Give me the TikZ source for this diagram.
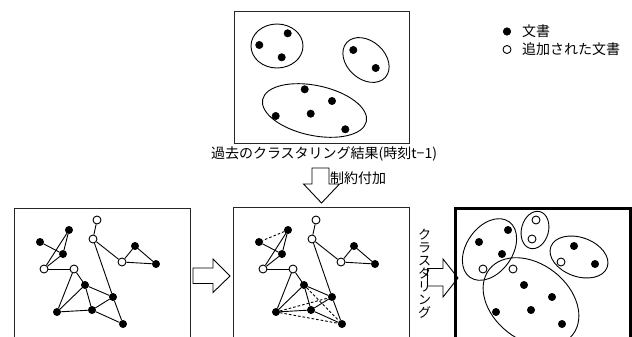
\documentclass[tikz,border=0pt]{standalone}
\usepackage{fontspec}
\setmainfont{Noto Sans CJK JP}
\begin{document}
\begin{tikzpicture}[x=1pt,y=-1pt,
  fd/.style={circle, fill=black, draw=black, line width=0.5pt, inner sep=0pt, minimum size=7.4pt},
  od/.style={circle, fill=white, draw=black, line width=0.9pt, inner sep=0pt, minimum size=8pt},
  edge/.style={line width=0.9pt},
  dedge/.style={line width=0.9pt, dash pattern=on 2.6pt off 2pt},
  frame/.style={draw=black!85, line width=1pt},
  thickframe/.style={draw=black, line width=3pt},
  blob/.style={draw=black, line width=0.9pt},
  arrowshape/.style={draw=black, fill=white, line width=0.9pt, line join=miter},
  txt/.style={inner sep=0pt, font=\fontsize{14}{16}\selectfont},
  vtxt/.style={inner sep=0pt, anchor=base, font=\fontsize{13}{13}\selectfont}
]
\useasboundingbox (0,0) rectangle (632,337);
\clip (0,0) rectangle (632,337);

\newcommand\graphnodes{%
  \node[od] (w1) at (97,220) {};
  \node[od] (w2) at (93,239) {};
  \node[fd] (b1) at (69,230) {};
  \node[fd] (b2) at (40,242) {};
  \node[fd] (b3) at (63,254) {};
  \node[od] (w3) at (44,269) {};
  \node[od] (w4) at (74,269) {};
  \node[fd] (b4) at (135,246) {};
  \node[od] (w5) at (122,262) {};
  \node[fd] (b5) at (156,264) {};
  \node[fd] (b6) at (85,285) {};
  \node[fd] (b7) at (113,297) {};
  \node[fd] (b8) at (57,312) {};
  \node[fd] (b9) at (92,310) {};
  \node[fd] (b10) at (123,324) {};
}
\newcommand\graphedges[1]{%
  \draw[edge] (#1w1) -- (#1w2);
  \draw[edge] (#1w2) -- (#1w5);
  \draw[edge] (#1w5) -- (#1b4);
  \draw[edge] (#1b4) -- (#1b5);
  \draw[edge] (#1w5) -- (#1b5);
  \draw[edge] (#1w2) -- (#1b7);
  \draw[edge] (#1b7) -- (#1b10);
  \draw[edge] (#1b2) -- (#1b3);
  \draw[edge] (#1b1) -- (#1b3);
  \draw[edge] (#1b1) -- (#1w3);
  \draw[edge] (#1b3) -- (#1w3);
  \draw[edge] (#1w3) -- (#1w4);
  \draw[edge] (#1w4) -- (#1b8);
  \draw[edge] (#1w4) -- (#1b6);
  \draw[edge] (#1b6) -- (#1b7);
  \draw[edge] (#1b6) -- (#1b8);
  \draw[edge] (#1b6) -- (#1b9);
  \draw[edge] (#1b8) -- (#1b9);
  \draw[edge] (#1b9) -- (#1b7);
  \draw[edge] (#1b9) -- (#1b10);
}

% ---------- top box: past clustering ----------
\path[frame] (234,12) rectangle (409,143.5);
\node[fd] (t1) at (259.3,45) {};
\node[fd] (t2) at (287.7,33.3) {};
\node[fd] (t3) at (281.7,57.3) {};
\node[fd] (t4) at (353.3,50) {};
\node[fd] (t5) at (375.7,68) {};
\node[fd] (t6) at (304.7,89.3) {};
\node[fd] (t7) at (332,101) {};
\node[fd] (t8) at (275.7,116) {};
\node[fd] (t9) at (310.7,113.7) {};
\node[fd] (t10) at (345.3,129.3) {};
\draw[blob] (277,46) ellipse [x radius=26pt, y radius=22pt];
\draw[blob] (366,60) ellipse [x radius=26pt, y radius=19pt, rotate=-42];
\draw[blob] (314.5,110.5) ellipse [x radius=53pt, y radius=25pt, rotate=-12];
\node[txt, anchor=base] (cap) at (324,158.5) {過去のクラスタリング結果(時刻t−1)};

% ---------- legend ----------
\node[fd, minimum size=7.6pt] (lg1) at (507,31.5) {};
\node[txt, anchor=base west] (lt1) at (522,37) {文書};
\node[od] (lg2) at (507,49.5) {};
\node[txt, anchor=base west] (lt2) at (522,55) {追加された文書};

% ---------- down arrow ----------
\draw[arrowshape] (312,168) -- (329,168) -- (329,184) -- (339.5,184) -- (321.5,203)
  -- (303.5,184) -- (312,184) -- cycle;
\node[txt, anchor=base west] (cons) at (330,183) {制約付加};

% ---------- left box ----------
\path[frame] (14,208) rectangle (190.5,345);
\begin{scope}[name prefix=L-]
  \graphnodes
\end{scope}
\graphedges{L-}

% ---------- arrow left -> middle ----------
\draw[arrowshape] (193,268) -- (213,268) -- (213,259) -- (230,276) -- (213,292.5)
  -- (213,283.5) -- (193,283.5) -- cycle;

% ---------- middle box ----------
\path[frame] (233,207.5) rectangle (409.5,345);
\begin{scope}[xshift=219pt, name prefix=M-]
  \graphnodes
\end{scope}
\graphedges{M-}
\draw[dedge] (M-b1) -- (M-b2);
\draw[dedge] (M-b6) -- (M-b10);
\draw[dedge] (M-b8) -- (M-b7);
\draw[dedge] (M-b8) -- (M-b10);

% ---------- arrow middle -> right ----------
\draw[arrowshape] (427.5,268.5) -- (443,268.5) -- (443,259) -- (458,278) -- (443,297)
  -- (443,286) -- (427.5,286) -- cycle;
\foreach \c [count=\i from 0] in {ク,ラ,ス,タ,リ,ン,グ}{
  \node[vtxt] (cl\i) at (424.5,239+13*\i) {\c};
}

% ---------- right box ----------
\path[thickframe] (455,208) rectangle (630,350);
\begin{scope}[xshift=439pt, name prefix=R-]
  \graphnodes
\end{scope}
\draw[blob] (489.5,249.5) ellipse [x radius=34pt, y radius=23pt, rotate=55];
\draw[blob] (535,230) ellipse [x radius=19pt, y radius=13.5pt, rotate=75];
\draw[blob] (579,257) ellipse [x radius=30pt, y radius=19.5pt, rotate=-20];
\draw[blob] (531,302) ellipse [x radius=53pt, y radius=38pt, rotate=-38];
\end{tikzpicture}
\end{document}
